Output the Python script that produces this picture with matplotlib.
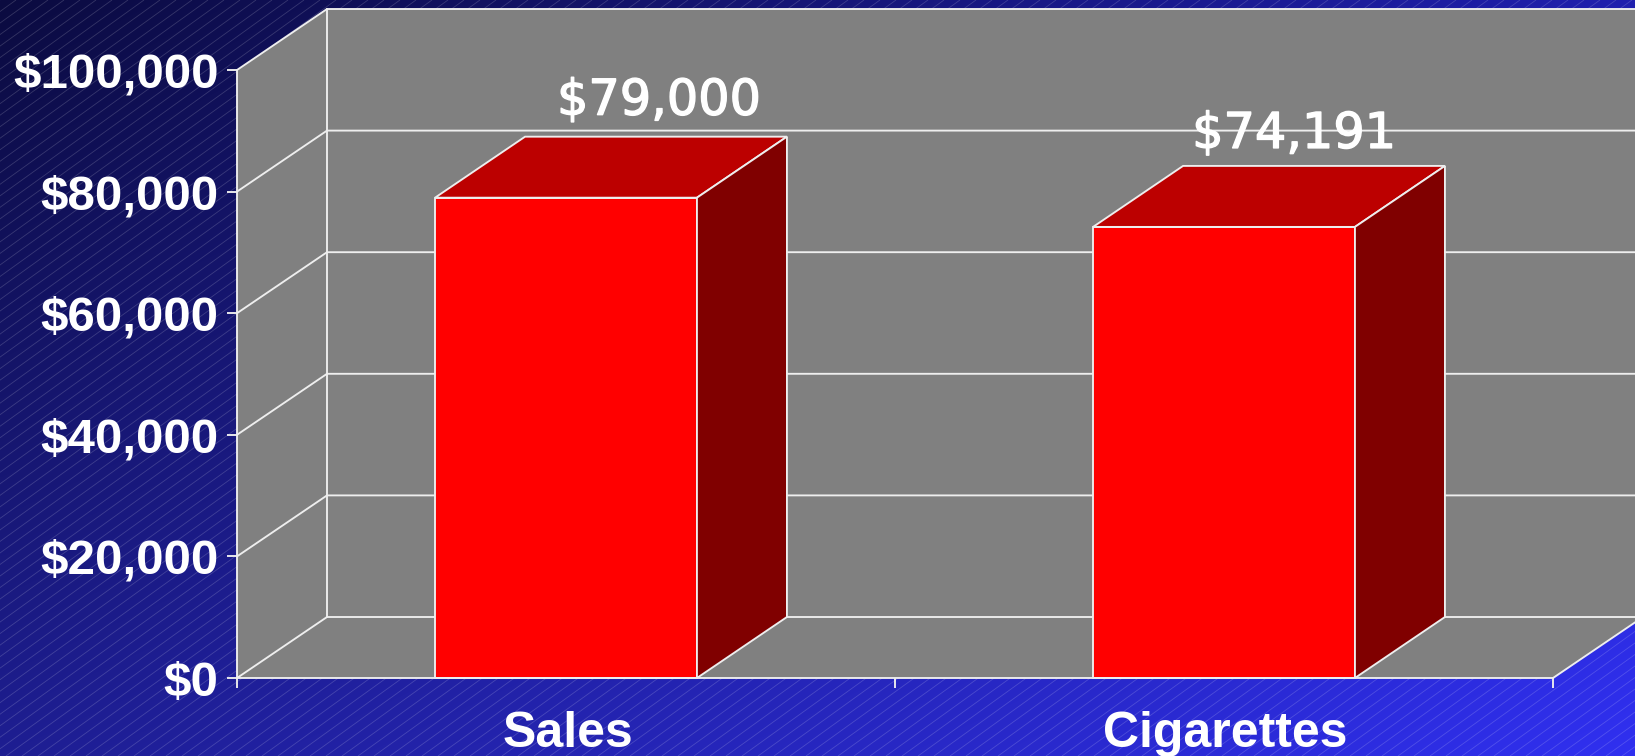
import numpy as np
import matplotlib
matplotlib.use("Agg")
import matplotlib.pyplot as plt
from matplotlib.collections import LineCollection
from matplotlib.patches import Polygon
from matplotlib.transforms import ScaledTranslation
import matplotlib.patheffects as pe

categories = ["Sales", "Cigarettes"]
values = [79000, 74191]
value_labels = ["$79,000", "$74,191"]
y_ticks = [0, 20000, 40000, 60000, 80000, 100000]
y_tick_labels = ["$0", "$20,000", "$40,000", "$60,000", "$80,000", "$100,000"]

W, H = 1635, 756
LEFT, RIGHT, BASE, TOP = 237, 1553, 678, 70
LINE = "#EEEEEE"
WALL = "#808080"
LW = 1.35

plt.rcParams["font.family"] = ["Liberation Sans", "DejaVu Sans"]
fig = plt.figure(figsize=(W / 100, H / 100), dpi=100)

# Blue slide background: four-corner gradient with fine diagonal pinstripes
bg = fig.add_axes([0, 0, 1, 1], zorder=0)
bg.set_xlim(0, W)
bg.set_ylim(H, 0)
bg.axis("off")
u, v = np.meshgrid(np.linspace(0, 1, 400), np.linspace(0, 1, 200))
corners = np.array([[0x0B, 0x0B, 0x40], [0x20, 0x20, 0xAE],
                    [0x1E, 0x1E, 0x92], [0x30, 0x30, 0xF0]]) / 255
grad = ((1 - u) * (1 - v))[..., None] * corners[0] + (u * (1 - v))[..., None] * corners[1] \
     + ((1 - u) * v)[..., None] * corners[2] + (u * v)[..., None] * corners[3]
bg.imshow(grad, extent=(0, W, H, 0), aspect="auto", interpolation="bilinear")
slope = 0.72
stripes = [[(s, 0), (s - H / slope, H)] for s in np.arange(0, W + H / slope + 16, 16)]
bg.add_collection(LineCollection(stripes, colors="white", alpha=0.17, linewidths=0.6))
bg.set_xlim(0, W)
bg.set_ylim(H, 0)

# Plot area: the front plane of the 3D box
ax = fig.add_axes([LEFT / W, 1 - BASE / H, (RIGHT - LEFT) / W, (BASE - TOP) / H], zorder=1)
ax.patch.set_alpha(0)
ax.set_xlim(0, 2)
ax.set_ylim(0, 100000)
DX = 90 / ((RIGHT - LEFT) / 2)
DY = 61 / ((BASE - TOP) / 100000)

# Side wall, back wall and floor
ymax = y_ticks[-1]
ax.add_patch(Polygon([(0, 0), (0, ymax), (DX, ymax + DY), (DX, DY)], fc=WALL, ec="none", clip_on=False, zorder=1))
ax.add_patch(Polygon([(DX, DY), (DX, ymax + DY), (2 + DX, ymax + DY), (2 + DX, DY)], fc=WALL, ec="none", clip_on=False, zorder=1))
ax.add_patch(Polygon([(0, 0), (2, 0), (2 + DX, DY), (DX, DY)], fc=WALL, ec="none", clip_on=False, zorder=1))
for t in y_ticks:
    ax.plot([0, DX, 2 + DX], [t, t + DY, t + DY], color=LINE, lw=LW, clip_on=False, zorder=2, solid_joinstyle="miter")
ax.plot([DX, DX], [DY, ymax + DY], color=LINE, lw=LW, clip_on=False, zorder=2)
ax.plot([2, 2 + DX], [0, DY], color=LINE, lw=LW, clip_on=False, zorder=2)

# Bars with front, top and side faces
WIDTH = 0.398
x_pos = np.arange(len(categories)) + 0.5
for xc, val in zip(x_pos, values):
    l, r = xc - WIDTH / 2, xc + WIDTH / 2
    faces = [
        ([(l, 0), (r, 0), (r, val), (l, val)], "#FF0000"),
        ([(l, val), (r, val), (r + DX, val + DY), (l + DX, val + DY)], "#BC0000"),
        ([(r, 0), (r + DX, DY), (r + DX, val + DY), (r, val)], "#800000"),
    ]
    for pts, col in faces:
        ax.add_patch(Polygon(pts, fc=col, ec=LINE, lw=LW, clip_on=False, zorder=3, joinstyle="miter"))

# Value labels sit above the bar tops, shifted towards the back
label_offsets = [(93, 83), (70, 79)]
for xc, val, txt, off in zip(x_pos, values, value_labels, label_offsets):
    ax.annotate(txt, (xc, val), xytext=off, textcoords="offset pixels", ha="center", va="baseline",
                fontsize=35.5, family="DejaVu Sans", color="white", zorder=5, annotation_clip=False,
                path_effects=[pe.withStroke(linewidth=1.0, foreground="white")])

# Axes furniture
for side in ("top", "right"):
    ax.spines[side].set_visible(False)
for side in ("left", "bottom"):
    ax.spines[side].set_color(LINE)
    ax.spines[side].set_linewidth(LW)
    ax.spines[side].set_zorder(4)
ax.set_yticks(y_ticks, y_tick_labels)
ax.set_xticks([0, 1, 2], ["", "", ""])
ax.set_xticks(x_pos, categories, minor=True)
ax.tick_params(axis="both", which="major", color=LINE, width=LW, length=7.2)
ax.tick_params(axis="y", which="major", pad=6, labelsize=35.5, labelcolor="white")
ax.tick_params(axis="x", which="minor", length=0, pad=23.5, labelsize=36, labelcolor="white")
nudge = ScaledTranslation(0.015, 0, fig.dpi_scale_trans)
for lab in ax.get_yticklabels():
    lab.set_fontweight("bold")
for lab in ax.get_xticklabels(minor=True):
    lab.set_fontweight("bold")
    lab.set_transform(lab.get_transform() + nudge)

fig.savefig("out.png", dpi=100)
